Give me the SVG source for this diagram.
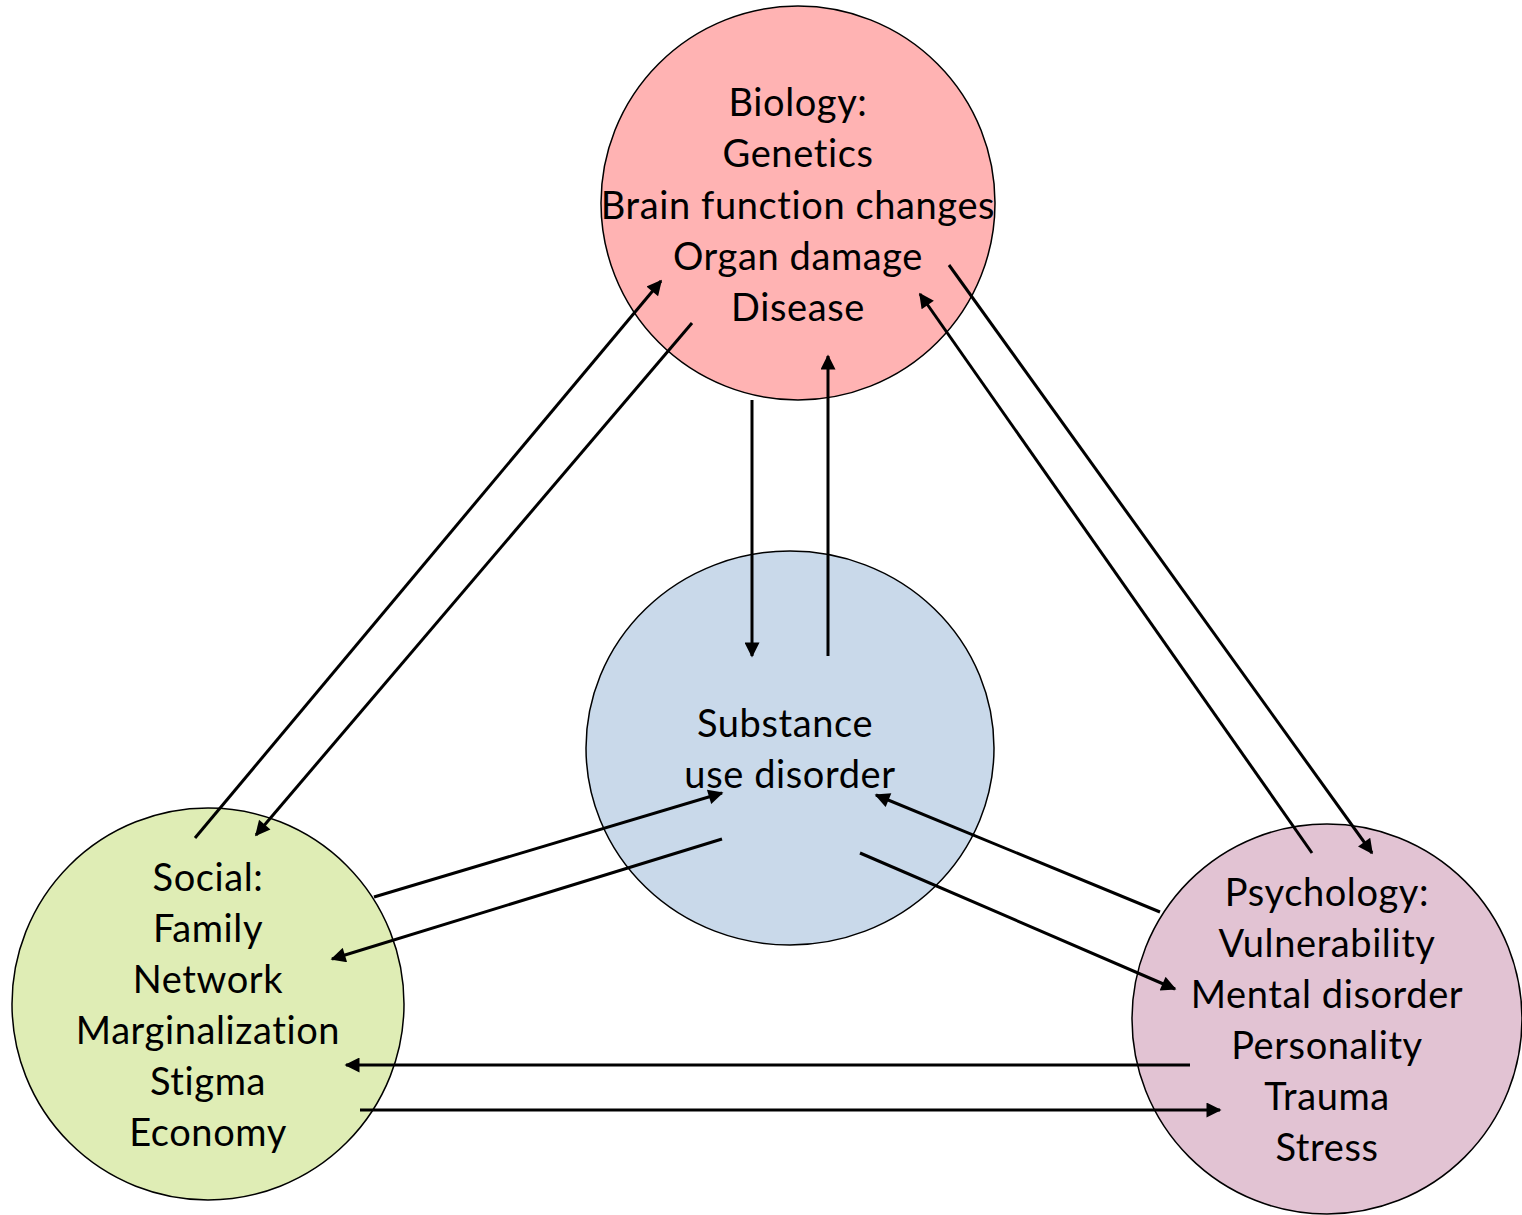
<svg xmlns="http://www.w3.org/2000/svg" width="1522" height="1215" viewBox="0 0 1522 1215">
<style>
.node{stroke:#000;stroke-width:1.5}
.lbl{font-family:Lato,"Liberation Sans",sans-serif;font-size:38px;letter-spacing:0.6px;font-variant-ligatures:none;fill:#000;text-anchor:middle}
.conn line{stroke:#000;stroke-width:3;marker-end:url(#ah)}
</style>
<defs>
<marker id="ah" viewBox="0 0 10 10" refX="9" refY="5" markerWidth="5.5" markerHeight="5" markerUnits="strokeWidth" orient="auto">
<path d="M0,0 L10,5 L0,10 z" fill="#000"/>
</marker>
</defs>
<rect width="1522" height="1215" fill="#fff"/>
<g id="biology">
<circle class="node" cx="798" cy="203" r="197" fill="#FFB3B3"/>
<text class="lbl"><tspan x="798" y="116">Biology:</tspan><tspan x="798" y="167">Genetics</tspan><tspan x="798" y="219">Brain function changes</tspan><tspan x="798" y="270">Organ damage</tspan><tspan x="798" y="321">Disease</tspan></text>
</g>
<g id="sud">
<ellipse class="node" cx="790" cy="748" rx="204" ry="197" fill="#C9D9EA"/>
<text class="lbl"><tspan x="785" y="737">Substance</tspan><tspan x="790" y="788">use disorder</tspan></text>
</g>
<g id="social">
<circle class="node" cx="208" cy="1004" r="196" fill="#DFEDB5"/>
<text class="lbl"><tspan x="208" y="891">Social:</tspan><tspan x="208" y="942">Family</tspan><tspan x="208" y="993">Network</tspan><tspan x="208" y="1044">Marginalization</tspan><tspan x="208" y="1095">Stigma</tspan><tspan x="208" y="1146">Economy</tspan></text>
</g>
<g id="psychology">
<circle class="node" cx="1327" cy="1019" r="195" fill="#E2C3D3"/>
<text class="lbl"><tspan x="1327" y="906">Psychology:</tspan><tspan x="1327" y="957">Vulnerability</tspan><tspan x="1327" y="1008">Mental disorder</tspan><tspan x="1327" y="1059">Personality</tspan><tspan x="1327" y="1110">Trauma</tspan><tspan x="1327" y="1161">Stress</tspan></text>
</g>
<g id="connectors" class="conn">
<line x1="195" y1="838" x2="661" y2="281"/>
<line x1="692" y1="323" x2="256" y2="835"/>
<line x1="752" y1="400" x2="752" y2="656"/>
<line x1="828" y1="656" x2="828" y2="356"/>
<line x1="949" y1="265" x2="1372" y2="853"/>
<line x1="1312" y1="853" x2="920" y2="294"/>
<line x1="374" y1="897" x2="722" y2="793"/>
<line x1="722" y1="839" x2="332" y2="959"/>
<line x1="1160" y1="912" x2="876" y2="795"/>
<line x1="860" y1="853" x2="1175" y2="989"/>
<line x1="1190" y1="1065" x2="346" y2="1065"/>
<line x1="360" y1="1110" x2="1220" y2="1110"/>
</g>
</svg>
